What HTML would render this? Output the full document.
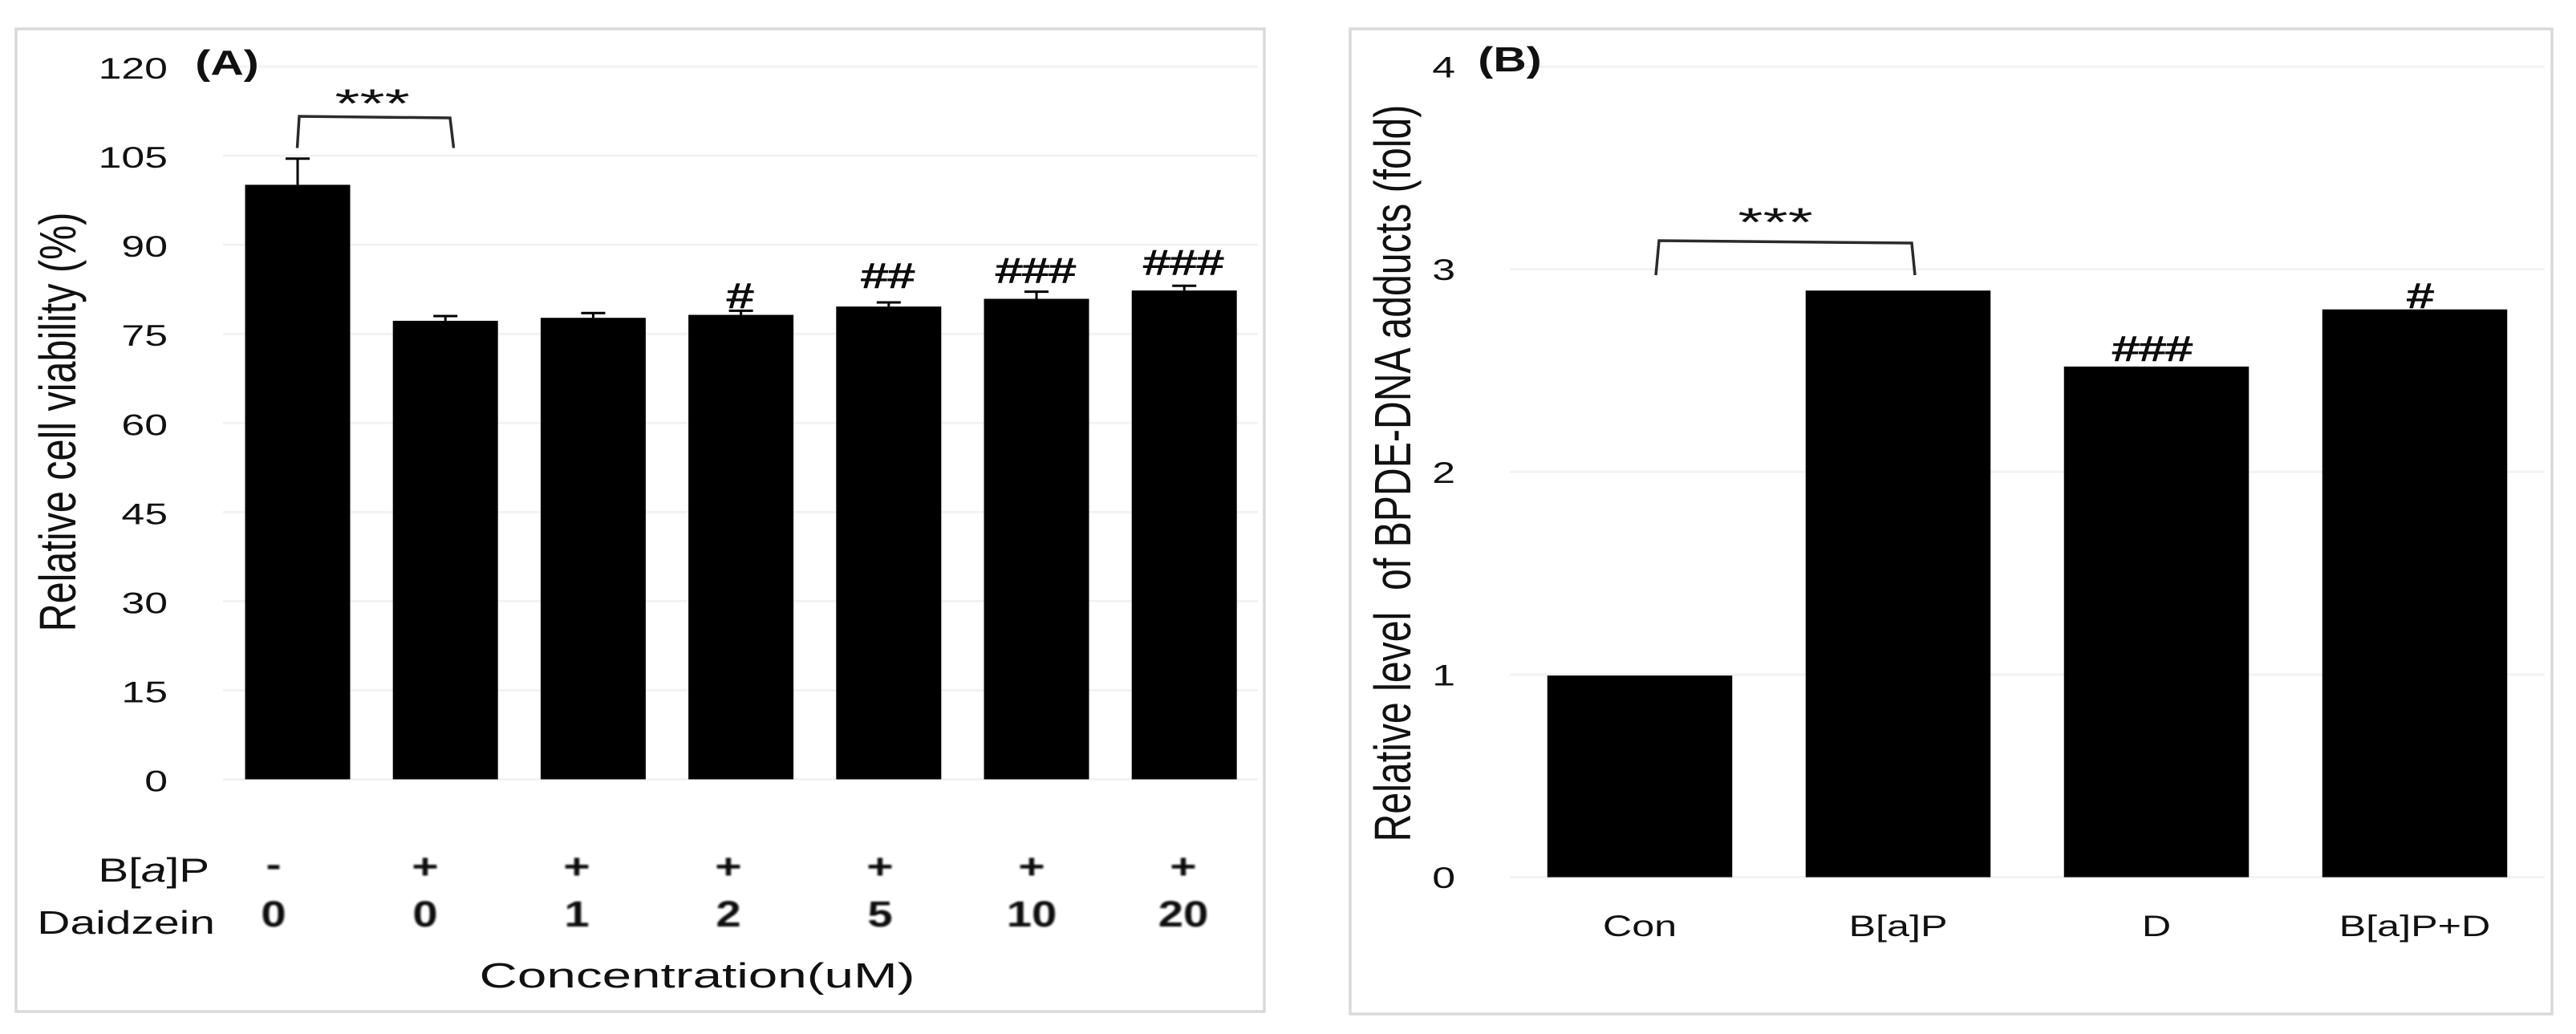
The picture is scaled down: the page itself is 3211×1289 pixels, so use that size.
<!DOCTYPE html>
<html lang="en">
<head>
<meta charset="utf-8">
<title>Cell viability and BPDE-DNA adducts</title>
<style>
html,body{margin:0;padding:0;background:#fff;width:3211px;height:1289px;overflow:hidden}
svg{display:block}
text{font-family:"Liberation Sans",sans-serif;fill:#111;white-space:pre}
</style>
</head>
<body>
<svg id="figure" xmlns="http://www.w3.org/2000/svg" width="3211" height="1289" viewBox="0 0 3211 1289">
  <defs>
    <filter id="soft" x="-20%" y="-20%" width="140%" height="140%"><feGaussianBlur stdDeviation="1"/></filter>
  </defs>
  <rect x="20" y="36" width="1556" height="1225" fill="#fff" stroke="#d9d9d9" stroke-width="3.5"/>
  <rect x="1683" y="36" width="1498" height="1228" fill="#fff" stroke="#d9d9d9" stroke-width="3.5"/>
  <g id="gridA"></g>
  <g id="gridB"></g>
  <g id="marksA"></g>
  <g id="marksB"></g>
  <g id="labels"></g>

  <text transform="translate(283,93) scale(1.3,1)" text-anchor="middle" font-size="44" font-weight="bold">(A)</text>
  <text transform="translate(1882,89) scale(1.3,1)" text-anchor="middle" font-size="44" font-weight="bold">(B)</text>
  <text transform="translate(94,526) scale(1.32,1) rotate(-90)" text-anchor="middle" font-size="48.5">Relative cell viability (%)</text>
  <text transform="translate(1758,590) scale(1.32,1) rotate(-90)" text-anchor="middle" font-size="48.2">Relative level  of BPDE-DNA adducts (fold)</text>
  <text transform="translate(869,1231) scale(1.49,1)" text-anchor="middle" font-size="44">Concentration(uM)</text>
  <text transform="translate(261,1099) scale(1.35,1)" text-anchor="end" font-size="42">B[<tspan font-style="italic">a</tspan>]P</text>
  <text transform="translate(268,1164) scale(1.39,1)" text-anchor="end" font-size="41">Daidzein</text>

  <polyline points="370.5,184.5 373,145 561,147 565.5,184.5" fill="none" stroke="#2b2b2b" stroke-width="3.5"/>
  <text transform="translate(464,146) scale(1.6,1)" text-anchor="middle" font-size="50" fill="#333">***</text>
  <polyline points="2064,343 2068,300 2383,303 2387,343" fill="none" stroke="#2b2b2b" stroke-width="3.5"/>
  <text transform="translate(2213,294) scale(1.6,1)" text-anchor="middle" font-size="50" fill="#333">***</text>
</svg>

<script>
// Panel A data
const yTicksA = [0, 15, 30, 45, 60, 75, 90, 105, 120];
const viabilityValues = [100.1, 77.2, 77.7, 78.2, 79.6, 80.9, 82.3];
const viabilityErrors = [4.4, 0.8, 0.8, 0.7, 0.7, 1.2, 0.8];
const bapRow = ['-', '+', '+', '+', '+', '+', '+'];
const daidzeinRow = ['0', '0', '1', '2', '5', '10', '20'];
const hashMarksA = ['', '', '', '#', '##', '###', '###'];
const hashLevelsA = [0, 0, 0, 79.4, 82.8, 83.7, 85.0];

// Panel B data
const yTicksB = [0, 1, 2, 3, 4];
const categoriesB = ['Con', 'B[a]P', 'D', 'B[a]P+D'];
const adductValues = [0.995, 2.895, 2.52, 2.802];
const hashMarksB = ['', '', '###', '#'];
const hashLevelsB = [0, 0, 2.55, 2.81];

const SVGNS = 'http://www.w3.org/2000/svg';

function yA(v) { return 971.5 - v * 7.404; }
function xA(i) { return 371 + i * 184.2; }
function rowX(i) { return 341 + i * 189; }
function yB(v) { return 1093.5 - v * 252.6; }
function xB(i) { return 2044 + i * 322; }

function mk(parent, tag, attrs, content) {
  const el = document.createElementNS(SVGNS, tag);
  for (const k in attrs) el.setAttribute(k, attrs[k]);
  if (content !== undefined) el.textContent = content;
  parent.appendChild(el);
  return el;
}

const gridA = document.getElementById('gridA');
const gridB = document.getElementById('gridB');
const marksA = document.getElementById('marksA');
const marksB = document.getElementById('marksB');
const labels = document.getElementById('labels');

yTicksA.forEach(function (t) {
  const line = mk(gridA, 'line', { x1: 278, x2: 1568, y1: yA(t), y2: yA(t), stroke: '#f2f2f2', 'stroke-width': 3 });
  
  
  const label = mk(labels, 'text', { transform: 'translate(209,' + (yA(t) + 15) + ') scale(1.4,1)', 'text-anchor': 'end', 'font-size': 37 }, String(t));
  
  
});

yTicksB.forEach(function (t) {
  const line = mk(gridB, 'line', { x1: 1882, x2: 3172, y1: yB(t), y2: yB(t), stroke: '#f2f2f2', 'stroke-width': 3 });
  
  
  const label = mk(labels, 'text', { transform: 'translate(1814,' + (yB(t) + 13.5) + ') scale(1.4,1)', 'text-anchor': 'end', 'font-size': 37 }, String(t));
  
  
});

viabilityValues.forEach(function (v, i) {
  const cx = xA(i);
  const bar = mk(marksA, 'rect', { x: cx - 65.5, y: yA(v), width: 131, height: yA(0) - yA(v), fill: '#000' });
  
  

  const top = yA(v + viabilityErrors[i]);
  const stem = mk(marksA, 'line', { x1: cx, x2: cx, y1: top, y2: yA(v), stroke: '#000', 'stroke-width': 3 });
  
  
  const cap = mk(marksA, 'line', { x1: cx - 15, x2: cx + 15, y1: top, y2: top, stroke: '#000', 'stroke-width': 3 });
  
  

  if (hashMarksA[i]) {
    const hash = mk(marksA, 'text', { transform: 'translate(' + (cx - 1) + ',' + yA(hashLevelsA[i]) + ') scale(1.36,1)', 'text-anchor': 'middle', 'font-size': 44, stroke: '#000', 'stroke-width': 1 }, hashMarksA[i]);
    
    
  }

  const bap = mk(labels, 'text', { transform: 'translate(' + rowX(i) + ',' + (bapRow[i] === '-' ? 1092 : 1095) + ') scale(1.3,1)', 'text-anchor': 'middle', 'font-size': 44, 'font-weight': 'bold', fill: '#555', filter: 'url(#soft)' }, bapRow[i]);
  
  

  const dz = mk(labels, 'text', { transform: 'translate(' + rowX(i) + ',1155) scale(1.25,1)', 'text-anchor': 'middle', 'font-size': 45, 'font-weight': 'bold', fill: '#444', filter: 'url(#soft)' }, daidzeinRow[i]);
  
  
});

adductValues.forEach(function (v, i) {
  const cx = xB(i);
  const bar = mk(marksB, 'rect', { x: cx - 115.25, y: yB(v), width: 230.5, height: yB(0) - yB(v), fill: '#000' });
  
  

  if (hashMarksB[i]) {
    const hash = mk(marksB, 'text', { transform: 'translate(' + (cx + (i === 3 ? 7 : -5)) + ',' + yB(hashLevelsB[i]) + ') scale(1.36,1)', 'text-anchor': 'middle', 'font-size': 44, stroke: '#000', 'stroke-width': 1 }, hashMarksB[i]);
    
    
  }

  const cat = mk(labels, 'text', { transform: 'translate(' + cx + ',1167) scale(1.36,1)', 'text-anchor': 'middle', 'font-size': 37 }, categoriesB[i]);
  
  
});
</script>
</body>
</html>
